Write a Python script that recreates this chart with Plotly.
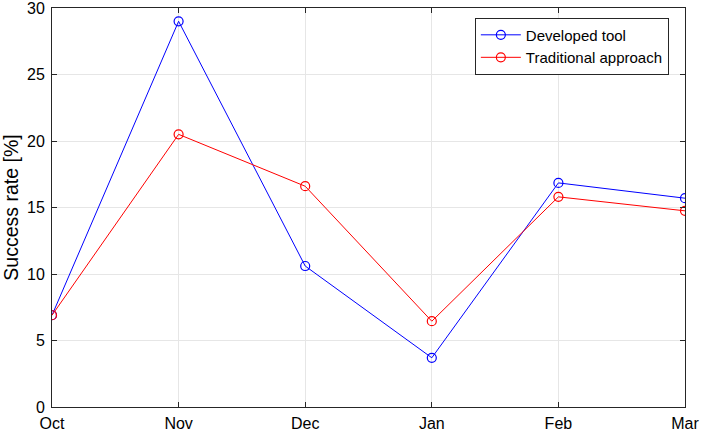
import plotly.graph_objects as go

months = ["Oct", "Nov", "Dec", "Jan", "Feb", "Mar"]
developed_tool = [6.9, 29.0, 10.6, 3.7, 16.85, 15.7]
traditional = [6.9, 20.5, 16.6, 6.45, 15.8, 14.75]
y_ticks = [0, 5, 10, 15, 20, 25, 30]

FONT = "Liberation Sans, Arial, sans-serif"
AX = "#262626"

fig = go.Figure()
fig.add_trace(go.Scatter(
    x=months, y=developed_tool, name="Developed tool", mode="lines+markers",
    line=dict(color="#0000ff", width=1),
    marker=dict(symbol="circle-open", size=9, color="#0000ff", line=dict(width=1.2)),
))
fig.add_trace(go.Scatter(
    x=months, y=traditional, name="Traditional approach", mode="lines+markers",
    line=dict(color="#ff0000", width=1),
    marker=dict(symbol="circle-open", size=9, color="#ff0000", line=dict(width=1.2)),
))

axis_common = dict(
    showline=True, linecolor=AX, linewidth=1, mirror="ticks",
    ticks="inside", ticklen=5, tickcolor=AX, tickwidth=1,
    showgrid=True, gridcolor="#e6e6e6", gridwidth=1, zeroline=False,
    tickfont=dict(family=FONT, size=16, color="#000000"),
    automargin=False, ticklabeloverflow="allow",
)

fig.update_layout(
    width=702, height=435,
    margin=dict(l=52, r=17, t=8, b=28),
    paper_bgcolor="white", plot_bgcolor="white",
    font=dict(family=FONT, size=15, color="#000000"),
    xaxis=dict(type="category", range=[0, 5], categoryorder="array",
               categoryarray=months, ticklabelstandoff=2, **axis_common),
    yaxis=dict(range=[0, 30], tickvals=y_ticks, ticklabelstandoff=3,
               title=dict(text="Success rate [%]", font=dict(family=FONT, size=19.5), standoff=7),
               **axis_common),
    legend=dict(x=0.668, y=0.976, xanchor="left", yanchor="top",
                bgcolor="white", bordercolor=AX, borderwidth=1,
                font=dict(family=FONT, size=15), tracegroupgap=0,
                itemwidth=40),
    showlegend=True,
)

fig.write_html("out.html", config={"displayModeBar": False},
               post_script="document.body.style.margin='0';")
